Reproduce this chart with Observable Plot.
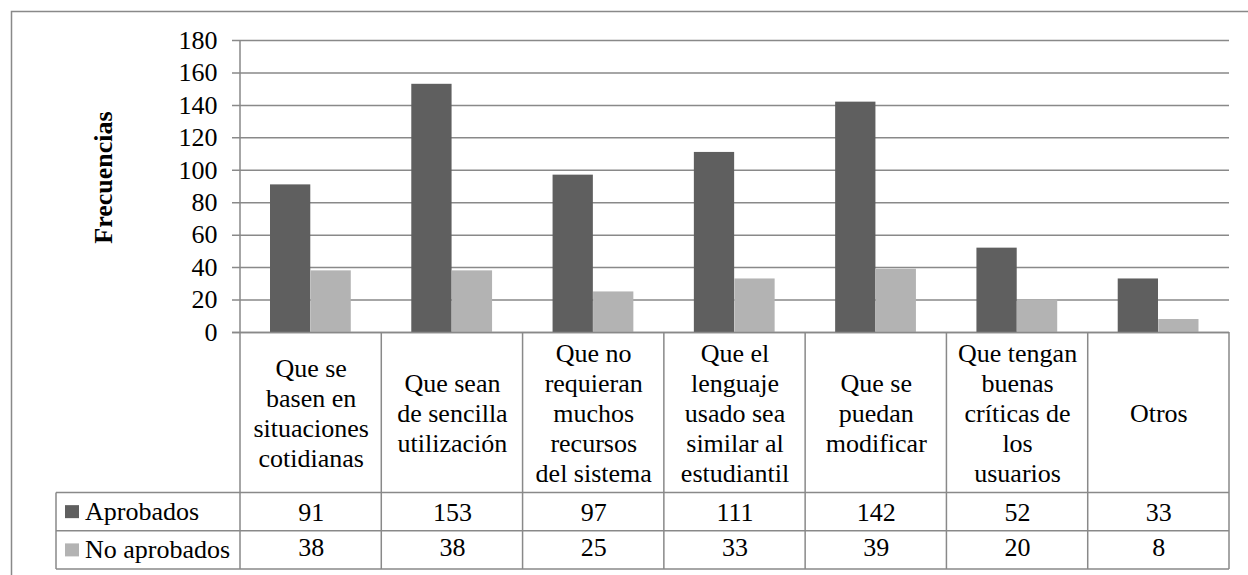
<!DOCTYPE html>
<html>
<head>
<meta charset="utf-8">
<script src="https://cdn.jsdelivr.net/npm/d3@7"></script>
<script src="https://cdn.jsdelivr.net/npm/@observablehq/plot@0.6"></script>
<style>
  html, body { margin: 0; padding: 0; background: #fff; }
  #chart svg { display: block; }
  #chart svg text { font-family: "Liberation Serif", "Times New Roman", serif !important; }
</style>
</head>
<body>
<div id="chart"></div>
<script>
// ---- data ----
const categories = [
  "Que se\nbasen en\nsituaciones\ncotidianas",
  "Que sean\nde sencilla\nutilización",
  "Que no\nrequieran\nmuchos\nrecursos\ndel sistema",
  "Que el\nlenguaje\nusado sea\nsimilar al\nestudiantil",
  "Que se\npuedan\nmodificar",
  "Que tengan\nbuenas\ncríticas de\nlos\nusuarios",
  "Otros"
];
const seriesNames = ["Aprobados", "No aprobados"];
const aprobados = [91, 153, 97, 111, 142, 52, 33];
const noAprobados = [38, 38, 25, 33, 39, 20, 8];
const yTicks = [0, 20, 40, 60, 80, 100, 120, 140, 160, 180];
const yLabel = "Frecuencias";

// ---- styles ----
const serif = "Liberation Serif";
const colors = {"Aprobados": "#5f5f5f", "No aprobados": "#b3b3b3"};
const lineColor = "#898989";

const rowsA = categories.map((c, i) => ({category: c, value: aprobados[i]}));
const rowsN = categories.map((c, i) => ({category: c, value: noAprobados[i]}));

// table rows (layout in pixels below the plot frame)
const tableBottomLines = [492.5, 530.8, 569];
const legendLeft = 56;

function tableMark(index, scales, values, dimensions) {
  const {width, height, marginLeft, marginRight, marginTop, marginBottom} = dimensions;
  const x = scales.x;
  const bw = typeof x.bandwidth === "function" ? x.bandwidth() : x.bandwidth;
  const left = marginLeft, right = width - marginRight;
  const top = height - marginBottom;
  const g = d3.create("svg:g");
  const stroke = (sel) => sel.attr("stroke", lineColor).attr("stroke-width", 1.5).attr("fill", "none");
  // outer chart-area frame
  g.append("path").attr("d", `M11.5,575V11.5H1248`).call(stroke);
  // y axis line continues into the table
  g.append("line").attr("x1", left).attr("x2", left).attr("y1", marginTop).attr("y2", tableBottomLines[2]).call(stroke);
  // column separators
  for (const c of categories) {
    const xr = x(c) + bw;
    g.append("line").attr("x1", xr).attr("x2", xr).attr("y1", top).attr("y2", tableBottomLines[2]).call(stroke);
  }
  // horizontal lines
  for (const yy of tableBottomLines) {
    g.append("line").attr("x1", legendLeft).attr("x2", right).attr("y1", yy).attr("y2", yy).call(stroke);
  }
  g.append("line").attr("x1", legendLeft).attr("x2", legendLeft).attr("y1", tableBottomLines[0]).attr("y2", tableBottomLines[2]).call(stroke);
  // legend cells
  seriesNames.forEach((s, i) => {
    const y0 = tableBottomLines[i], y1 = tableBottomLines[i + 1];
    const cy = (y0 + y1) / 2;
    g.append("rect").attr("x", 65).attr("y", cy - 6.5).attr("width", 14).attr("height", 13).attr("fill", colors[s]);
    g.append("text").attr("x", 85).attr("y", cy).attr("dy", "0.32em")
      .attr("text-anchor", "start")
      .attr("font-family", serif)
      .attr("font-size", 26).attr("fill", "#000").text(s);
  });
  return g.node();
}

const plot = Plot.plot({
  width: 1248,
  height: 575,
  marginLeft: 240,
  marginRight: 19,
  marginTop: 40,
  marginBottom: 243,
  style: {
    fontFamily: "Liberation Serif",
    fontSize: "26px",
    color: "#000",
    background: "#fff",
    overflow: "visible"
  },
  x: {domain: categories, padding: 0, round: false, axis: null},
  y: {domain: [0, 180], ticks: yTicks, tickSize: 0, tickPadding: 23, label: null, tickFormat: d => String(d)},
  marks: [
    Plot.ruleY(yTicks, {stroke: lineColor, strokeWidth: 1.5, insetLeft: -8}),
    Plot.barY(rowsA, {x: "category", y: "value", fill: colors["Aprobados"], insetLeft: 30, insetRight: 71}),
    Plot.barY(rowsN, {x: "category", y: "value", fill: colors["No aprobados"], insetLeft: 70.5, insetRight: 30.5}),
    Plot.ruleY([0], {stroke: lineColor, strokeWidth: 1.5, insetLeft: -8}),
    tableMark,
    // category labels
    Plot.text(categories, {x: d => d, text: d => d, frameAnchor: "bottom", dy: 80, textAnchor: "middle", lineAnchor: "middle", lineHeight: 1.15, fill: "#000", fontSize: 26, fontFamily: serif}),
    // values rows
    Plot.text(rowsA, {x: "category", text: d => String(d.value), frameAnchor: "bottom", dy: 180, textAnchor: "middle", lineAnchor: "middle", fill: "#000", fontSize: 26, fontFamily: serif}),
    Plot.text(rowsN, {x: "category", text: d => String(d.value), frameAnchor: "bottom", dy: 215.5, textAnchor: "middle", lineAnchor: "middle", fill: "#000", fontSize: 26, fontFamily: serif}),
    // y label
    Plot.text([yLabel], {text: d => d, frameAnchor: "left", textAnchor: "middle", lineAnchor: "middle", rotate: -90, dx: -137, dy: -9, fontWeight: "bold", fill: "#000", fontSize: 26, fontFamily: serif})
  ]
});
document.getElementById("chart").appendChild(plot);
</script>
</body>
</html>
